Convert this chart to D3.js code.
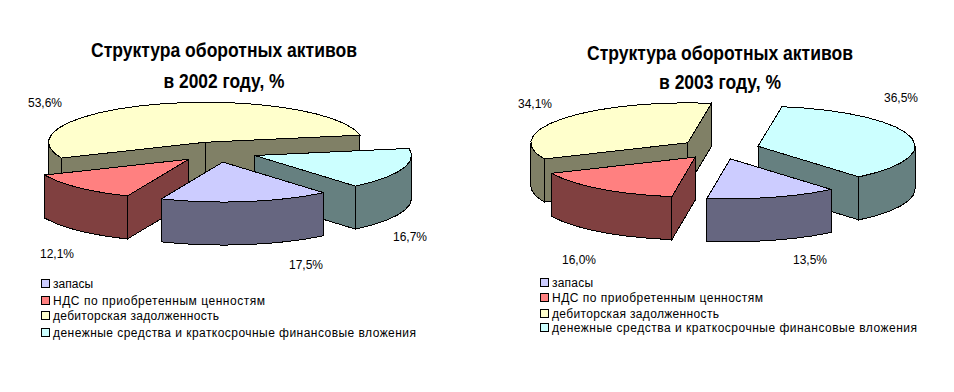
<!DOCTYPE html>
<html>
<head>
<meta charset="utf-8">
<script src="https://cdnjs.cloudflare.com/ajax/libs/d3/7.8.5/d3.min.js"></script>
<style>
  body { margin: 0; background: #fff; }
  text { font-family: "Liberation Sans", Arial, sans-serif; fill: #000; }
  .title { font-size: 19.5px; font-weight: bold; text-anchor: middle; }
  .pct { font-size: 12px; }
  .leg { font-size: 12px; }
</style>
</head>
<body>
<div class="box"></div>
<script>
// Data
const categories = ['запасы', 'НДС по приобретенным ценностям', 'дебиторская задолженность', 'денежные средства и краткосрочные финансовые вложения'];
const values2002 = [17.5, 12.1, 53.6, 16.7];
const values2003 = [13.5, 16.0, 34.1, 36.5];
const titleLine1 = 'Структура оборотных активов';
const titles2002 = [titleLine1, 'в 2002 году, %'];
const titles2003 = [titleLine1, 'в 2003 году, %'];

// Colours, top and side of each slice
const topColors = ['#CCCCFF', '#FF8080', '#FFFFCC', '#CCFFFF'];
const sideColors = ['#666680', '#804040', '#808066', '#668080'];

// Pie geometry
const rx = 157, ry = 40, depth = 43, explode = 40;
const drawOrder = [2, 3, 1, 0];

const svg = d3.select('.box')
              .append('svg')
              .attr('width', 954)
              .attr('height', 392)
              .style('display', 'block')
              .style('background', '#fff');

const pie = d3.pie()
              .sort(null)
              .startAngle(140 * Math.PI / 180)
              .endAngle(500 * Math.PI / 180);

// screen angle: 0 = right, clockwise
const screenAngle = a => a - Math.PI / 2;
const x = d3.scaleLinear().domain([-1, 1]).range([-rx, rx]);
const y = d3.scaleLinear().domain([-1, 1]).range([-ry, ry]);
const line = d3.line().x(d => d[0]).y(d => d[1]);

// coarse arc, the original outline is a polygon too
function arcPoints(t0, t1) {
    const step = 9 * Math.PI / 180;
    const n = Math.max(1, Math.ceil((t1 - t0) / step));
    return d3.range(n + 1).map(i => {
        const t = t0 + (t1 - t0) * i / n;
        return [x(Math.cos(t)), y(Math.sin(t))];
    });
}

function drawChart(opts) {
    const g = svg.append('g');

    g.selectAll('.title')
     .data(opts.titles)
     .enter()
     .append('text')
     .attr('class', 'title')
     .attr('x', opts.titleX)
     .attr('y', (d, i) => opts.titleY[i])
     .attr('textLength', (d, i) => opts.titleW[i])
     .attr('lengthAdjust', 'spacingAndGlyphs')
     .text(d => d);

    const slices = pie(opts.values);

    drawOrder.forEach(idx => {
        const s = slices[idx];
        const t0 = screenAngle(s.startAngle);
        const t1 = screenAngle(s.endAngle);
        const mid = (t0 + t1) / 2;
        const ox = opts.cx + explode * Math.cos(mid);
        const oy = opts.cy + explode * (ry / rx) * Math.sin(mid);

        const slice = g.append('g')
                       .attr('transform', `translate(${ox}, ${oy})`)
                       .attr('stroke', '#000')
                       .attr('stroke-width', 1)
                       .attr('shape-rendering', 'crispEdges');

        const down = p => [p[0], p[1] + depth];
        const wall = pts => line(pts.concat(pts.slice().reverse().map(down))) + 'Z';
        const apex = [0, 0];
        const p0 = [x(Math.cos(t0)), y(Math.sin(t0))];
        const p1 = [x(Math.cos(t1)), y(Math.sin(t1))];

        // cut faces looking at the viewer
        if (Math.cos(t0) < 0) {
            slice.append('path').attr('d', wall([apex, p0])).attr('fill', sideColors[idx]);
        }
        if (Math.cos(t1) > 0) {
            slice.append('path').attr('d', wall([apex, p1])).attr('fill', sideColors[idx]);
        }

        // outer wall, front half of the ellipse only
        [[0, Math.PI], [2 * Math.PI, 3 * Math.PI]].forEach(r => {
            const a = Math.max(t0, r[0]);
            const b = Math.min(t1, r[1]);
            if (b > a) {
                slice.append('path').attr('d', wall(arcPoints(a, b))).attr('fill', sideColors[idx]);
            }
        });

        // top
        slice.append('path')
             .attr('d', line([apex].concat(arcPoints(t0, t1))) + 'Z')
             .attr('fill', topColors[idx]);
    });

    // percent labels
    g.selectAll('.pct')
     .data(opts.values)
     .enter()
     .append('text')
     .attr('class', 'pct')
     .attr('x', (d, i) => opts.labelX[i])
     .attr('y', (d, i) => opts.labelY[i])
     .text(d => d3.format('.1f')(d).replace('.', ',') + '%');

    // legend
    const leg = g.selectAll('.legitem')
                 .data(categories)
                 .enter()
                 .append('g')
                 .attr('class', 'legitem')
                 .attr('transform', (d, i) => `translate(${opts.legendX}, ${opts.legendY[i]})`);

    leg.append('rect')
       .attr('x', 0.5)
       .attr('y', -4.5)
       .attr('width', 8)
       .attr('height', 8)
       .attr('fill', (d, i) => topColors[i])
       .attr('stroke', '#000')
       .attr('shape-rendering', 'crispEdges');

    leg.append('text')
       .attr('class', 'leg')
       .attr('x', opts.legendGap)
       .attr('y', 4)
       .attr('textLength', (d, i) => opts.legendW[i])
       .text(d => d);
}

drawChart({
    values: values2002,
    titles: titles2002,
    titleX: 224,
    titleY: [57, 88],
    titleW: [266, 121],
    cx: 217,
    cy: 152,
    labelX: [289, 40, 28, 393],
    labelY: [269, 258, 107, 241],
    legendX: 41,
    legendGap: 12,
    legendY: [284, 301, 316, 333],
    legendW: [40, 212, 166, 363]
});

drawChart({
    values: values2003,
    titles: titles2003,
    titleX: 720,
    titleY: [60, 89],
    titleW: [266, 122],
    cx: 719.5,
    cy: 149,
    labelX: [793, 562, 518, 884],
    labelY: [264, 264, 108, 102],
    legendX: 540,
    legendGap: 12,
    legendY: [283, 298, 314, 328],
    legendW: [41, 211, 167, 365]
});
</script>
</body>
</html>
